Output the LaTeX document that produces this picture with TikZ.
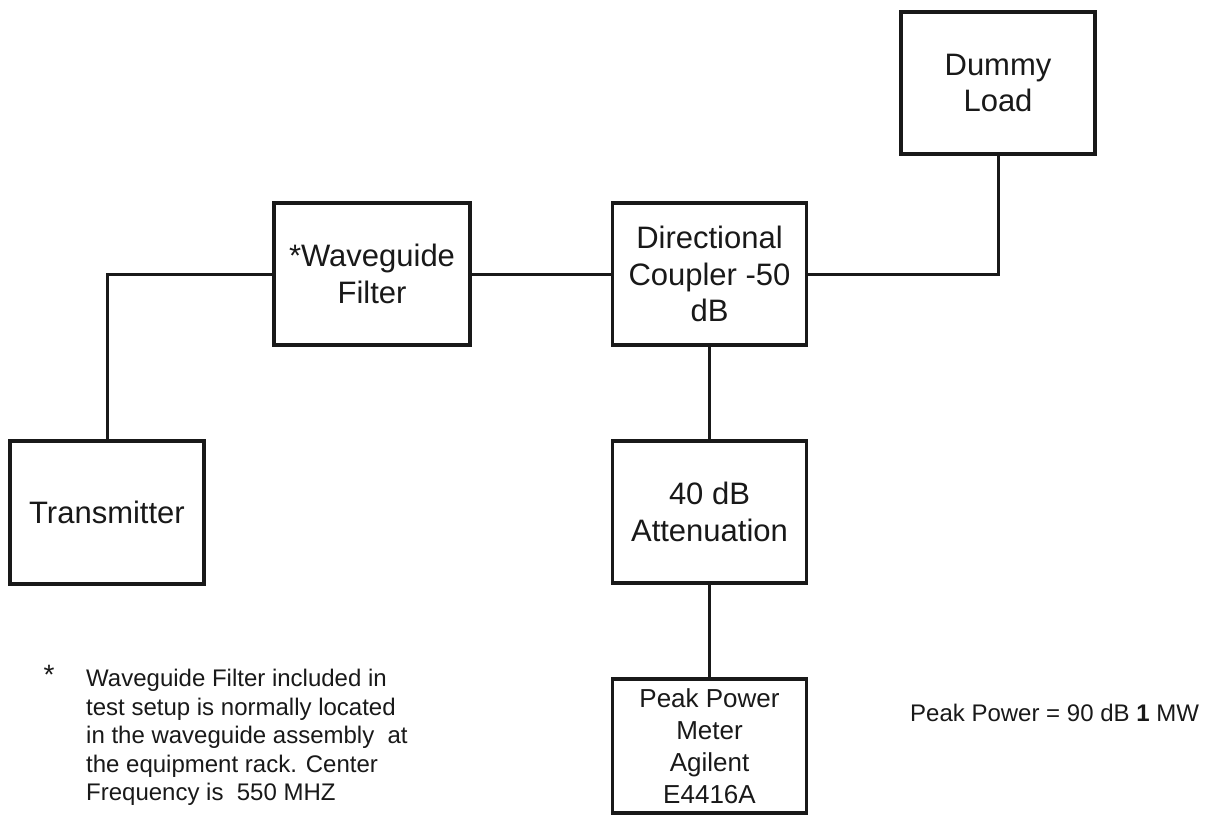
\documentclass[tikz,border=0pt]{standalone}
\usepackage{fontspec}
\setmainfont{Liberation Sans}
\begin{document}
\begin{tikzpicture}[x=1pt,y=-1pt,
  blk/.style={draw=black!90, line width=3.3pt, inner sep=0pt, align=center,
    minimum width=194pt, minimum height=142pt, text=black!90,
    font=\fontsize{31}{36.5}\selectfont},
  wire/.style={draw=black!90, line width=3pt},
  note/.style={inner sep=0pt, text=black!90, font=\fontsize{24}{28.5}\selectfont}]
\useasboundingbox (0,0) rectangle (1209,821);
\fill[white] (0,0) rectangle (1209,821);

\node[blk, minimum height=143pt] (tx) at (107,512.5) {Transmitter};
\node[blk, minimum width=196pt] (wf) at (372,274) {*Waveguide\\Filter};
\node[blk] (dc) at (709.5,274) {Directional\\Coupler -50\\dB};
\node[blk] (dl) at (998,83) {Dummy\\Load};
\node[blk] (at) at (709.5,512) {40 dB\\Attenuation};
\node[blk, minimum height=134pt, font=\fontsize{26}{32}\selectfont] (pm) at (709.5,746) {Peak Power\\Meter\\Agilent\\E4416A};

\draw[wire] (tx.north) |- (wf.west);
\draw[wire] (wf.east) -- (dc.west);
\draw[wire] (dc.east) -| (dl.south);
\draw[wire] (dc.south) -- (at.north);
\draw[wire] (at.south) -- (pm.north);

\node[note, font=\fontsize{28}{28}\selectfont] (star) at (49,675) {*};
\node[note, anchor=north west, align=left] (fn) at (86,669) {Waveguide Filter included in\\test setup is normally located\\in the waveguide assembly~ at\\the equipment rack. Center\\Frequency is~ 550 MHZ};
\node[note, anchor=west] (pp) at (910,713) {Peak Power = 90 dB \textbf{1} MW};
\end{tikzpicture}
\end{document}
